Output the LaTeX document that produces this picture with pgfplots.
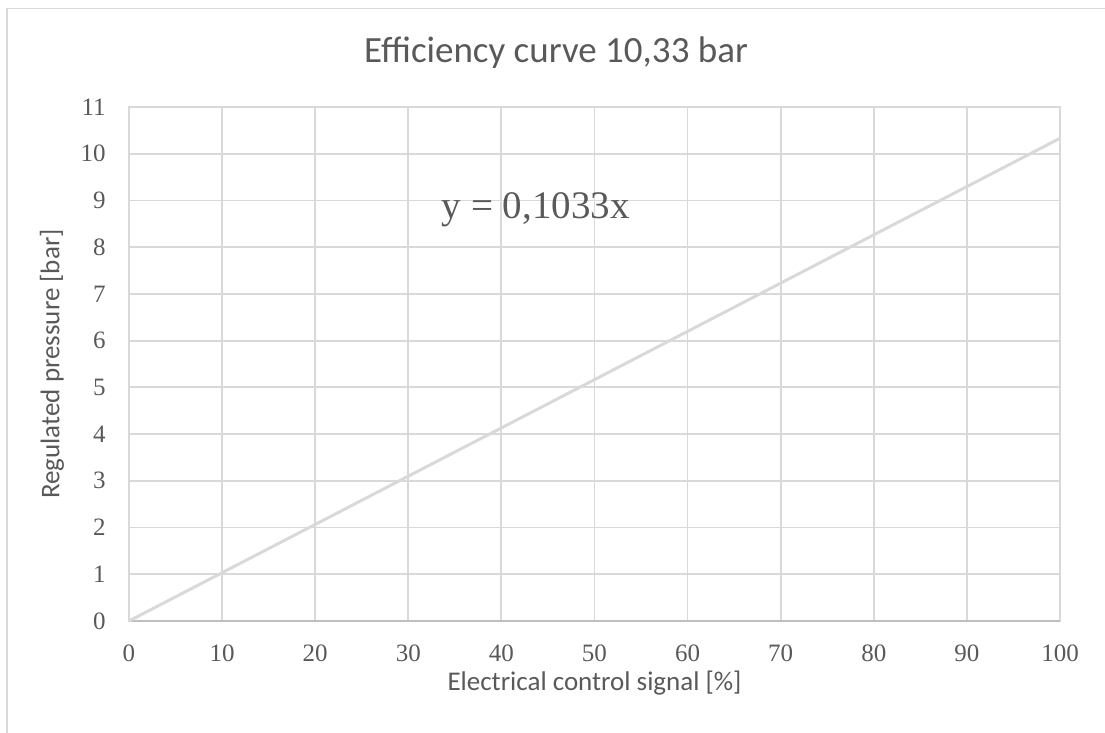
\documentclass[border=0pt]{standalone}
\usepackage{pgfplots}
\pgfplotsset{compat=1.18}
\usepackage{fontspec}
\setmainfont{Carlito}
\newfontfamily\numfont{Liberation Serif}
\definecolor{txt}{HTML}{595959}
\definecolor{grd}{HTML}{D9D9D9}
\definecolor{axl}{HTML}{BFBFBF}
\definecolor{ln}{HTML}{D9D9D9}
\begin{document}
\begin{tikzpicture}
\useasboundingbox (-64.5pt,-56pt) rectangle (488pt,310.5pt);
\draw[grd, line width=0.75pt] (-61pt,-57pt) -- (-61pt,306.25pt) -- (489pt,306.25pt);
\begin{axis}[
  at={(0,0)}, anchor=south west,
  scale only axis, width=465.5pt, height=257pt,
  xmin=0, xmax=100, ymin=0, ymax=11,
  xtick={0,10,...,100}, ytick={0,1,...,11},
  grid=major, grid style={grd, line width=0.9pt},
  axis line style={grd, line width=0.9pt},
  major tick length=0pt,
  extra y ticks={0}, extra y tick labels={},
  extra y tick style={grid style={axl, line width=0.9pt}},
  /pgf/number format/assume math mode=true,
  tick label style={font=\numfont\fontsize{12.5}{14}\selectfont, text=txt, inner sep=0pt},
  xticklabel style={anchor=center, yshift=-16pt},
  yticklabel style={anchor=east, xshift=-11.5pt},
  title={Efficiency curve 10,33 bar},
  title style={at={(axis description cs:0.4587,1.0815)}, anchor=center, font=\fontsize{18.5}{22}\selectfont, text=txt},
  xlabel={Electrical control signal [\%]},
  xlabel style={at={(axis description cs:0.5,-0.1206)}, anchor=center, font=\fontsize{13.5}{16}\selectfont, text=txt},
  ylabel={Regulated pressure [bar]},
  ylabel style={at={(axis description cs:-0.0827,0.5)}, anchor=center, rotate=0, font=\fontsize{13.5}{16}\selectfont, text=txt},
  clip=false,
]
\addplot[ln, line width=1.5pt] coordinates {(0,0) (100,10.33)};
\node[font=\numfont\fontsize{19.5}{22}\selectfont, text=txt, anchor=center] at (axis cs:43.7,8.8) {y = 0,1033x};
\end{axis}
\end{tikzpicture}
\end{document}
